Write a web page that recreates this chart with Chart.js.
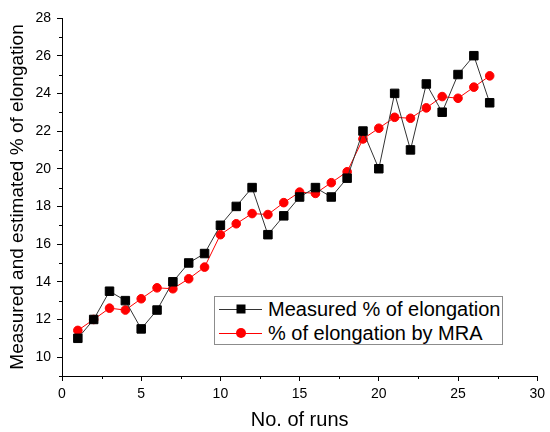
<!DOCTYPE html>
<html>
<head>
<meta charset="utf-8">
<title>Elongation</title>
<script src="https://cdn.jsdelivr.net/npm/chart.js@4.4.0/dist/chart.umd.min.js"></script>
<style>
  html, body { margin: 0; padding: 0; background: #fff; }
  #wrap { position: relative; width: 550px; height: 432px; }
  #legend {
    position: absolute; left: 214px; top: 296px; width: 289px; height: 49px;
    box-sizing: border-box; border: 1px solid #8c8c8c; background: #fff;
    font-family: Arial, "Liberation Sans", sans-serif; font-size: 20px; color: #000;
  }
  .row { height: 24px; line-height: 24px; white-space: nowrap; display: flex; align-items: center; }
  .sym { position: relative; width: 43px; height: 24px; margin-left: 4px; margin-right: 6px; flex: none; }
  .sym .ln { position: absolute; left: 0; right: 0; top: 12px; height: 1px; }
  .sym .mk { position: absolute; left: 50%; top: 12px; transform: translate(-50%, -50%); }
</style>
</head>
<body>
<div id="wrap">
  <canvas id="elongChart" width="550" height="432"></canvas>
  <div id="legend"></div>
</div>
<script>
// Data dari grafik
const runs = [1, 2, 3, 4, 5, 6, 7, 8, 9, 10, 11, 12, 13, 14, 15, 16, 17, 18, 19, 20, 21, 22, 23, 24, 25, 26, 27];
const measured = [11, 12, 13.5, 13, 11.5, 12.5, 14, 15, 15.5, 17, 18, 19, 16.5, 17.5, 18.5, 19, 18.5, 19.5, 22, 20, 24, 21, 24.5, 23, 25, 26, 23.5];
const byMRA = [11.42, 12.0, 12.6, 12.5, 13.1, 13.68, 13.63, 14.16, 14.78, 16.5, 17.08, 17.62, 17.57, 18.2, 18.76, 18.69, 19.26, 19.84, 21.58, 22.15, 22.73, 22.68, 23.23, 23.83, 23.74, 24.33, 24.93];
const xTicks = [0, 2.5, 5, 7.5, 10, 12.5, 15, 17.5, 20, 22.5, 25, 27.5, 30];
const yTicks = [9, 10, 11, 12, 13, 14, 15, 16, 17, 18, 19, 20, 21, 22, 23, 24, 25, 26, 27, 28];

const seriesLabels = ["Measured % of elongation", "% of elongation by MRA"];
const fontFamily = 'Arial, "Liberation Sans", sans-serif';

// Plugin untuk tick minor (lebih pendek)
const minorTicks = {
  id: "minorTicks",
  afterDraw(chart) {
    const ctx = chart.ctx;
    const xs = chart.scales.x;
    const ys = chart.scales.y;
    ctx.save();
    ctx.strokeStyle = "#000";
    ctx.lineWidth = 1;
    ctx.beginPath();
    xs.ticks.forEach((t) => {
      if (t.value % 5 !== 0) {
        const px = Math.round(xs.getPixelForValue(t.value)) + 0.5;
        ctx.moveTo(px, ys.bottom);
        ctx.lineTo(px, ys.bottom + 3);
      }
    });
    ys.ticks.forEach((t) => {
      if (t.value % 2 !== 0) {
        const py = Math.round(ys.getPixelForValue(t.value)) + 0.5;
        ctx.moveTo(xs.left, py);
        ctx.lineTo(xs.left - 3, py);
      }
    });
    ctx.stroke();
    ctx.restore();
  },
};

function buatChart() {
  const ctx = document.getElementById("elongChart").getContext("2d");
  new Chart(ctx, {
    type: "scatter",
    data: {
      datasets: [
        {
          label: seriesLabels[0],
          data: runs.map((r, i) => ({ x: r, y: measured[i] })),
          showLine: true,
          borderColor: "#333",
          borderWidth: 1,
          pointStyle: "rect",
          pointRadius: 6,
          pointBackgroundColor: "#000",
          pointBorderColor: "#000",
          pointBorderWidth: 1,
        },
        {
          label: seriesLabels[1],
          data: runs.map((r, i) => ({ x: r, y: byMRA[i] })),
          showLine: true,
          borderColor: "#ff0000",
          borderWidth: 1,
          pointStyle: "circle",
          pointRadius: 4.3,
          pointBackgroundColor: "#ff0000",
          pointBorderColor: "#ff0000",
          pointBorderWidth: 1,
        },
      ],
    },
    options: {
      responsive: false,
      animation: false,
      devicePixelRatio: 1,
      layout: { padding: { left: 0, top: 18, right: 11, bottom: 0 } },
      plugins: {
        legend: { display: false },
        tooltip: { enabled: false },
      },
      scales: {
        x: {
          type: "linear",
          min: 0,
          max: 30,
          afterBuildTicks: (scale) => {
            scale.ticks = xTicks.map((v) => ({ value: v }));
          },
          afterFit: (scale) => {
            scale.height = 56;
          },
          ticks: {
            autoSkip: false,
            maxRotation: 0,
            padding: 5,
            color: "#000",
            font: { family: fontFamily, size: 14 },
            callback: (v) => (v % 5 === 0 ? String(v) : ""),
          },
          grid: {
            drawOnChartArea: false,
            drawTicks: true,
            tickLength: 5,
            tickColor: (c) => (c.tick && c.tick.value % 5 === 0 ? "#000" : "rgba(0,0,0,0)"),
          },
          border: { display: true, color: "#000", width: 1 },
          title: {
            display: true,
            text: "No. of runs",
            color: "#000",
            font: { family: fontFamily, size: 20 },
            padding: { top: 0, bottom: 0 },
          },
        },
        y: {
          type: "linear",
          min: 9,
          max: 28,
          afterBuildTicks: (scale) => {
            scale.ticks = yTicks.map((v) => ({ value: v }));
          },
          afterFit: (scale) => {
            scale.width = 62;
          },
          ticks: {
            autoSkip: false,
            padding: 6,
            color: "#000",
            font: { family: fontFamily, size: 14 },
            callback: (v) => (v % 2 === 0 ? String(v) : ""),
          },
          grid: {
            drawOnChartArea: false,
            drawTicks: true,
            tickLength: 5,
            tickColor: (c) => (c.tick && c.tick.value % 2 === 0 ? "#000" : "rgba(0,0,0,0)"),
          },
          border: { display: true, color: "#000", width: 1 },
          title: {
            display: true,
            text: "Measured and estimated % of elongation",
            color: "#000",
            font: { family: fontFamily, size: 19 },
            padding: { top: 6, bottom: 0 },
          },
        },
      },
    },
    plugins: [minorTicks],
  });
}

// Legenda HTML di dalam area chart
function buatLegend() {
  const legend = document.getElementById("legend");
  legend.innerHTML = "";
  const gaya = [
    { line: "#333", marker: "width:9px;height:9px;background:#000;" },
    { line: "#ff0000", marker: "width:10px;height:10px;border-radius:50%;background:#ff0000;" },
  ];
  seriesLabels.forEach((label, i) => {
    const row = document.createElement("div");
    row.className = "row";
    const sym = document.createElement("span");
    sym.className = "sym";
    const ln = document.createElement("span");
    ln.className = "ln";
    ln.style.background = gaya[i].line;
    const mk = document.createElement("span");
    mk.className = "mk";
    mk.style.cssText += gaya[i].marker;
    sym.appendChild(ln);
    sym.appendChild(mk);
    const text = document.createElement("span");
    text.textContent = label;
    row.appendChild(sym);
    row.appendChild(text);
    legend.appendChild(row);
  });
}

document.addEventListener("DOMContentLoaded", function () {
  buatChart();
  buatLegend();
});
</script>
</body>
</html>
